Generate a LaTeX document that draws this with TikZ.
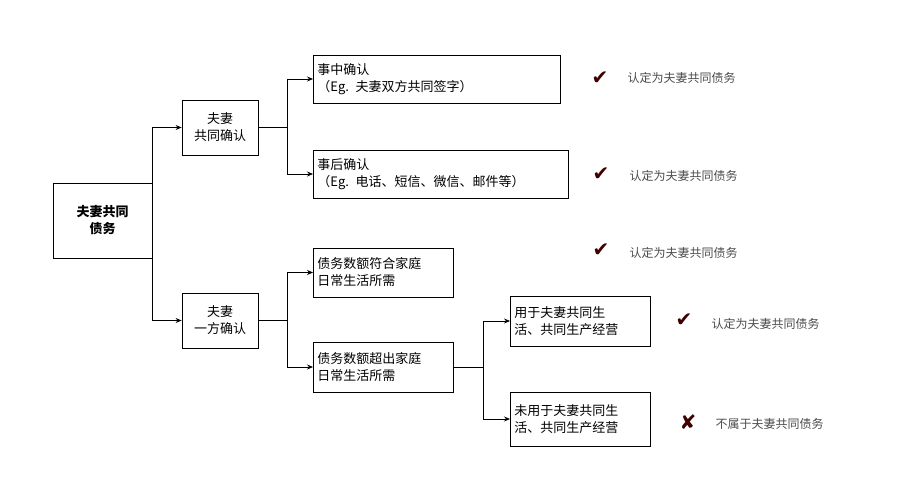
\documentclass[tikz,border=0pt]{standalone}
\usepackage{fontspec}
\newfontfamily\cjk{Noto Sans CJK SC}
\newfontfamily\sym{DejaVu Sans}
\usetikzlibrary{arrows.meta}
\begin{document}
\begin{tikzpicture}[x=1pt,y=-1pt,
 bx/.style={draw,line width=0.8pt,inner sep=4pt,font=\cjk\fontsize{13}{17}\selectfont,align=center},
 lb/.style={bx,align=left},
 ar/.style={-{Stealth[length=6pt,width=5pt]},line width=0.7pt},
 ln/.style={line width=0.7pt},
 ck/.style={font=\sym\fontsize{20}{20}\selectfont,text=black!75!red},
 tx/.style={font=\cjk\fontsize{12}{14}\selectfont,text=black!70,anchor=west}]
\useasboundingbox (0,0) rectangle (900,500);
\node[bx,minimum width=99pt,minimum height=75pt,font=\cjk\bfseries\fontsize{13}{17}\selectfont] (r) at (102.5,220.5) {夫妻共同\\债务};
\node[bx,minimum width=76pt,minimum height=55pt] (a) at (220,127.5) {夫妻\\共同确认};
\node[bx,minimum width=76pt,minimum height=55pt] (b) at (220,320.5) {夫妻\\一方确认};
\node[lb,text width=239pt,minimum height=48pt,anchor=west] (a1) at (313,79) {事中确认\\（Eg. 夫妻双方共同签字）};
\node[lb,text width=247pt,minimum height=48pt,anchor=west] (a2) at (313,174) {事后确认\\（Eg. 电话、短信、微信、邮件等）};
\node[lb,text width=132pt,minimum height=49pt,anchor=west] (b1) at (313,272.5) {债务数额符合家庭\\日常生活所需};
\node[lb,text width=132pt,minimum height=50pt,anchor=west] (b2) at (313,367) {债务数额超出家庭\\日常生活所需};
\node[lb,text width=132pt,minimum height=50pt,anchor=west] (c1) at (510,321) {用于夫妻共同生\\活、共同生产经营};
\node[lb,text width=132pt,minimum height=54pt,anchor=west] (c2) at (510,419) {未用于夫妻共同生\\活、共同生产经营};
\coordinate (j0) at (152,220.5);
\draw[ln] (j0|-a) -- (j0|-b);
\draw[ar] (j0|-a) -- (a.west);
\draw[ar] (j0|-b) -- (b.west);
\coordinate (j1) at (287,127.5);
\draw[ln] (a.east) -- (j1);
\draw[ln] (j1|-a1) -- (j1|-a2);
\draw[ar] (j1|-a1) -- (a1.west);
\draw[ar] (j1|-a2) -- (a2.west);
\coordinate (j2) at (287,320.5);
\draw[ln] (b.east) -- (j2);
\draw[ln] (j2|-b1) -- (j2|-b2);
\draw[ar] (j2|-b1) -- (b1.west);
\draw[ar] (j2|-b2) -- (b2.west);
\coordinate (j3) at (483,367);
\draw[ln] (b2.east) -- (j3);
\draw[ln] (j3|-c1) -- (j3|-c2);
\draw[ar] (j3|-c1) -- (c1.west);
\draw[ar] (j3|-c2) -- (c2.west);
\node[ck] (k1) at (600,78) {✔}; \node[tx] (t1) at (624,78) {认定为夫妻共同债务};
\node[ck] (k2) at (601,174) {✔}; \node[tx] (t2) at (626,176) {认定为夫妻共同债务};
\node[ck] (k3) at (601,250) {✔}; \node[tx] (t3) at (626,253) {认定为夫妻共同债务};
\node[ck] (k4) at (684,320) {✔}; \node[tx] (t4) at (708,324) {认定为夫妻共同债务};
\node[ck] (k5) at (688,422) {✘}; \node[tx] (t5) at (712,424) {不属于夫妻共同债务};
\end{tikzpicture}
\end{document}
